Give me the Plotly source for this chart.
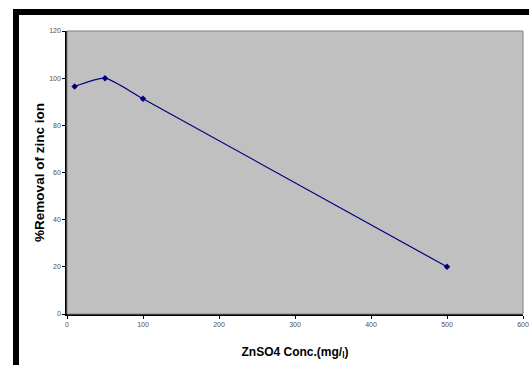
import plotly.graph_objects as go

# ZnSO4 concentration (mg/l) vs. zinc ion removal (%)
conc = [10, 50, 100, 500]
removal = [96.5, 100, 91.3, 20]

x_ticks = [0, 100, 200, 300, 400, 500, 600]
y_ticks = [0, 20, 40, 60, 80, 100, 120]

W, H = 529, 365
L, R, T, B = 67, 6, 31, 51
pw, ph = W - L - R, H - T - B


def px_x(p):
    return (p - L) / pw


def px_y(p):
    return (H - B - p) / ph


fig = go.Figure()
fig.add_trace(go.Scatter(
    x=conc, y=removal, mode="lines+markers",
    line=dict(color="#000080", width=1.2, shape="spline", smoothing=0.55),
    marker=dict(symbol="diamond", size=5, color="#000080"),
    showlegend=False,
))

shapes = [
    # grey frame of the plot area (top/right edges)
    dict(type="rect", xref="paper", yref="paper", x0=0, x1=1, y0=0, y1=1,
         line=dict(color="#808080", width=1), fillcolor="rgba(0,0,0,0)", layer="above"),
    # thick black outer border (top and left bands)
    dict(type="rect", xref="paper", yref="paper",
         x0=px_x(13), x1=px_x(535), y0=px_y(15), y1=px_y(9),
         line=dict(width=0), fillcolor="black", layer="above"),
    dict(type="rect", xref="paper", yref="paper",
         x0=px_x(13), x1=px_x(19), y0=px_y(370), y1=px_y(9),
         line=dict(width=0), fillcolor="black", layer="above"),
]

axis_font = dict(family="Liberation Sans, Arial", size=7, color="#505050")

fig.update_layout(
    width=W, height=H,
    margin=dict(l=L, r=R, t=T, b=B),
    paper_bgcolor="white",
    plot_bgcolor="#c0c0c0",
    shapes=shapes,
    xaxis=dict(
        range=[0, 600], tickvals=x_ticks, ticktext=[str(v) for v in x_ticks],
        showgrid=False, zeroline=False, showline=True, linecolor="black", linewidth=1.5,
        ticks="outside", ticklen=3, tickcolor="black", tickfont=axis_font,
        automargin=False,
        title=dict(text="<b>ZnSO4 Conc.(mg/<sub>l</sub>)</b>",
                   font=dict(family="Liberation Sans, Arial", size=12, color="black"),
                   standoff=20),
    ),
    yaxis=dict(
        range=[0, 120], tickvals=y_ticks, ticktext=[str(v) for v in y_ticks],
        showgrid=False, zeroline=False, showline=True, linecolor="black", linewidth=1.5,
        ticks="outside", ticklen=3, tickcolor="black", tickfont=axis_font,
        automargin=False,
        title=dict(text="<b>%Removal of zinc ion</b>",
                   font=dict(family="Liberation Sans, Arial", size=13.5, color="black"),
                   standoff=1),
    ),
)

fig.write_html("out.html")
